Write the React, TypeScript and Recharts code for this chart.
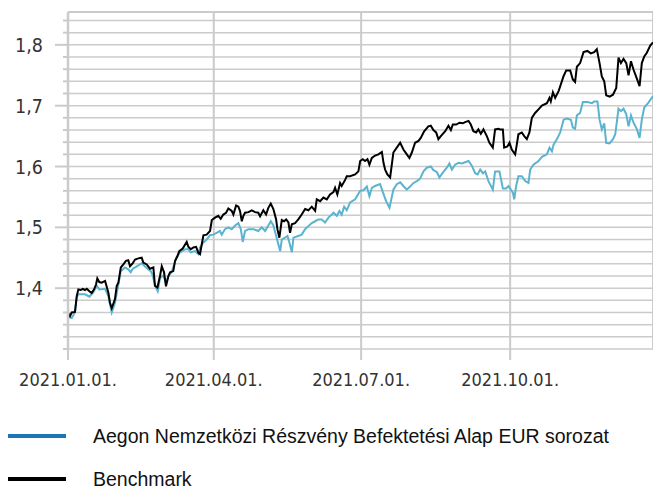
import React from "react";
import {
  LineChart,
  Line,
  XAxis,
  YAxis,
  CartesianGrid,
  ReferenceLine,
} from "recharts";

// days counted from 2021.01.01.
const X_TICK_DAYS = [0, 90, 181, 273];
const X_TICK_LABELS = ["2021.01.01.", "2021.04.01.", "2021.07.01.", "2021.10.01."];
const X_MAX = 361.2;

const Y_MIN = 1.3;
const Y_MAX = 1.854;
const Y_TICKS = [
  1.3, 1.32, 1.34, 1.36, 1.38, 1.4, 1.42, 1.44, 1.46, 1.48, 1.5, 1.52, 1.54, 1.56,
  1.58, 1.6, 1.62, 1.64, 1.66, 1.68, 1.7, 1.72, 1.74, 1.76, 1.78, 1.8, 1.82, 1.84,
];
const Y_LABELED = [1.4, 1.5, 1.6, 1.7, 1.8];

const SERIES_NAMES = ["Aegon Nemzetközi Részvény Befektetési Alap EUR sorozat", "Benchmark"];

// Aegon fund (EUR series)
const fundDays = [
  0, 1.2, 2.3, 4.3, 5.4, 6.4, 10.5, 13.2, 15.6, 17.7,
  19.3, 22.9, 24.9, 27.0, 29.0, 31.1, 32.6, 35.2, 37.2, 38.7,
  40.0, 42.5, 45.5, 48.2, 51.1, 52.3, 53.7, 55.4, 56.8, 58.9,
  60.5, 62.0, 64.1, 67.2, 69.2, 72.3, 74.3, 75.8, 78.4, 80.5,
  81.5, 83.6, 85.6, 87.7, 89.7, 91.8, 93.8, 94.9, 96.9, 99.0,
  101.1, 103.2, 105.2, 106.7, 107.9, 109.3, 111.4, 114.5, 117.5, 119.6,
  121.7, 123.7, 125.2, 126.8, 128.5, 129.9, 131.0, 132.0, 134.0, 135.5,
  136.7, 138.2, 139.2, 141.3, 144.3, 146.4, 148.4, 150.5, 152.6, 154.6,
  156.7, 158.7, 160.8, 162.9, 163.9, 166.0, 167.6, 169.0, 170.5, 172.1,
  174.2, 177.3, 180.4, 182.4, 184.5, 186.1, 187.6, 189.6, 192.7, 194.4,
  196.4, 198.5, 200.9, 203.0, 205.1, 207.1, 209.2, 211.2, 213.3, 215.4,
  217.4, 219.5, 221.5, 224.0, 225.6, 227.7, 229.3, 231.4, 233.9, 235.5,
  237.0, 239.0, 241.1, 243.2, 245.2, 247.3, 249.4, 251.4, 252.9, 254.5,
  256.2, 257.6, 259.6, 262.3, 263.7, 266.4, 268.5, 270.5, 272.0, 273.4,
  274.7, 275.5, 276.7, 278.1, 280.2, 282.3, 284.3, 285.4, 287.4, 290.5,
  292.6, 295.7, 297.3, 298.8, 299.8, 301.9, 303.9, 306.0, 308.0, 310.5,
  311.7, 313.1, 314.2, 316.2, 317.9, 320.7, 323.5, 324.9, 326.9, 328.2,
  329.6, 331.1, 332.3, 334.4, 336.5, 337.9, 339.9, 341.4, 343.0, 344.7,
  346.1, 347.6, 349.2, 351.3, 352.9, 354.3, 355.8, 358.4, 361.2,
];
const fundValues = [
  1.357, 1.352, 1.351, 1.36, 1.385, 1.39, 1.39, 1.386, 1.393, 1.404,
  1.398, 1.399, 1.387, 1.36, 1.376, 1.406, 1.428, 1.434, 1.431, 1.426,
  1.432, 1.436, 1.441, 1.434, 1.428, 1.421, 1.404, 1.395, 1.417, 1.421,
  1.408, 1.42, 1.427, 1.452, 1.459, 1.464, 1.464, 1.459, 1.461, 1.456,
  1.467, 1.475, 1.48, 1.487, 1.488, 1.491, 1.494, 1.488, 1.497, 1.5,
  1.497, 1.503, 1.507, 1.497, 1.476, 1.494, 1.497, 1.497, 1.494, 1.5,
  1.494, 1.503, 1.51, 1.503, 1.486, 1.472, 1.461, 1.48, 1.483, 1.486,
  1.475, 1.459, 1.483, 1.485, 1.488, 1.497, 1.502, 1.507, 1.51, 1.513,
  1.513, 1.508, 1.516, 1.521, 1.524, 1.519, 1.527, 1.521, 1.534, 1.528,
  1.541, 1.546, 1.56, 1.561, 1.567, 1.551, 1.565, 1.568, 1.571, 1.558,
  1.543, 1.532, 1.562, 1.571, 1.574, 1.568, 1.562, 1.567, 1.573, 1.576,
  1.58, 1.592, 1.598, 1.6, 1.594, 1.591, 1.582, 1.59, 1.598, 1.605,
  1.595, 1.603, 1.606, 1.605, 1.607, 1.609, 1.601, 1.589, 1.587, 1.595,
  1.589, 1.592, 1.576, 1.562, 1.592, 1.592, 1.564, 1.564, 1.568, 1.562,
  1.557, 1.546, 1.568, 1.584, 1.584, 1.576, 1.573, 1.595, 1.603, 1.609,
  1.616, 1.62, 1.631, 1.625, 1.636, 1.645, 1.656, 1.677, 1.679, 1.677,
  1.664, 1.662, 1.684, 1.688, 1.706, 1.706, 1.704, 1.707, 1.707, 1.677,
  1.661, 1.671, 1.639, 1.638, 1.645, 1.653, 1.695, 1.691, 1.695, 1.686,
  1.666, 1.684, 1.672, 1.661, 1.647, 1.677, 1.697, 1.705, 1.716,
];

// Benchmark
const benchDays = [
  0, 1.2, 2.3, 4.3, 5.4, 6.4, 7.8, 9.1, 10.5, 11.6,
  13.2, 14.6, 16.1, 17.3, 18.1, 19.3, 20.8, 22.9, 24.9, 25.9,
  27.0, 29.0, 30.1, 31.1, 32.6, 34.2, 35.8, 37.2, 38.3, 40.0,
  41.4, 43.4, 45.5, 46.5, 48.6, 50.6, 52.7, 53.7, 55.2, 56.8,
  57.9, 59.3, 60.5, 62.0, 63.0, 65.0, 66.1, 67.5, 68.7, 70.8,
  73.3, 74.3, 75.8, 77.4, 79.1, 80.5, 81.5, 83.6, 85.6, 87.7,
  88.8, 90.8, 92.8, 94.3, 95.9, 97.6, 99.0, 101.1, 102.1, 103.8,
  105.2, 106.2, 107.3, 108.3, 109.3, 111.4, 113.5, 115.5, 117.5, 118.6,
  120.6, 122.3, 123.7, 125.2, 126.8, 128.5, 129.3, 130.5, 132.0, 133.4,
  134.7, 136.1, 137.1, 138.2, 140.2, 142.2, 144.3, 146.4, 148.4, 150.5,
  152.6, 153.6, 155.7, 157.7, 159.8, 161.8, 163.9, 164.9, 166.3, 168.0,
  169.0, 171.1, 172.1, 174.2, 177.3, 179.3, 180.4, 182.0, 183.4, 184.9,
  186.1, 187.6, 189.6, 191.7, 193.8, 194.8, 195.8, 197.2, 198.9, 200.9,
  203.0, 205.1, 207.1, 209.2, 210.8, 212.3, 214.3, 216.4, 217.8, 219.9,
  222.5, 224.0, 225.6, 227.3, 228.7, 230.2, 232.9, 234.9, 236.4, 237.6,
  239.7, 241.7, 243.8, 245.2, 247.3, 248.7, 250.3, 252.0, 253.4, 254.9,
  256.5, 258.6, 260.2, 262.3, 263.7, 265.8, 266.8, 268.5, 269.3, 271.3,
  272.6, 274.0, 276.1, 277.1, 278.1, 280.2, 281.7, 283.3, 284.9, 286.4,
  288.4, 290.5, 292.6, 295.7, 297.3, 298.1, 299.4, 300.8, 302.9, 304.3,
  305.9, 307.6, 310.1, 311.7, 313.1, 314.2, 316.2, 318.3, 320.7, 322.8,
  324.9, 326.5, 328.2, 329.6, 331.1, 332.3, 334.4, 336.5, 338.5, 339.9,
  341.4, 343.0, 344.7, 346.1, 347.6, 349.2, 351.3, 352.9, 354.3, 355.8,
  357.4, 359.5, 361.2,
];
const benchValues = [
  1.359, 1.354, 1.36, 1.361, 1.387, 1.398, 1.397, 1.399, 1.397, 1.399,
  1.395, 1.392, 1.398, 1.406, 1.416, 1.41, 1.409, 1.412, 1.393, 1.376,
  1.367, 1.382, 1.404, 1.409, 1.434, 1.439, 1.445, 1.446, 1.436, 1.441,
  1.447, 1.449, 1.45, 1.442, 1.439, 1.432, 1.434, 1.404, 1.401, 1.42,
  1.436, 1.426, 1.403, 1.42, 1.426, 1.428, 1.445, 1.452, 1.461, 1.465,
  1.476, 1.468, 1.464, 1.467, 1.468, 1.458, 1.456, 1.487, 1.488, 1.494,
  1.512, 1.516, 1.519, 1.514, 1.521, 1.524, 1.531, 1.527, 1.521, 1.536,
  1.534, 1.527, 1.51, 1.519, 1.524, 1.525, 1.528, 1.525, 1.524, 1.518,
  1.528, 1.521, 1.532, 1.539, 1.53, 1.513, 1.497, 1.483, 1.512, 1.51,
  1.513, 1.508, 1.491, 1.505, 1.507, 1.513, 1.521, 1.53, 1.528, 1.534,
  1.527, 1.546, 1.543, 1.549, 1.546, 1.554, 1.558, 1.565, 1.554, 1.573,
  1.568, 1.578, 1.584, 1.584, 1.587, 1.592, 1.609, 1.612, 1.609, 1.612,
  1.603, 1.614, 1.618, 1.62, 1.624, 1.606, 1.595, 1.587, 1.582, 1.623,
  1.631, 1.639, 1.628, 1.62, 1.614, 1.623, 1.639, 1.642, 1.647, 1.658,
  1.666, 1.667, 1.66, 1.656, 1.645, 1.65, 1.658, 1.667, 1.66, 1.669,
  1.669, 1.672, 1.671, 1.673, 1.675, 1.669, 1.658, 1.656, 1.661, 1.654,
  1.661, 1.65, 1.639, 1.631, 1.661, 1.662, 1.661, 1.661, 1.631, 1.633,
  1.639, 1.628, 1.62, 1.636, 1.653, 1.656, 1.65, 1.645, 1.656, 1.68,
  1.688, 1.694, 1.7, 1.704, 1.713, 1.707, 1.722, 1.713, 1.724, 1.735,
  1.748, 1.758, 1.758, 1.743, 1.739, 1.764, 1.77, 1.788, 1.79, 1.786,
  1.788, 1.793, 1.77, 1.748, 1.74, 1.717, 1.715, 1.718, 1.729, 1.779,
  1.77, 1.777, 1.77, 1.75, 1.773, 1.759, 1.744, 1.732, 1.77, 1.781,
  1.787, 1.799, 1.804,
];

const fundData = fundDays.map((day, i) => ({ day, value: fundValues[i] }));
const benchData = benchDays.map((day, i) => ({ day, value: benchValues[i] }));

const GRID = "#cbcbcb";
const TEXT = "#333333";
const AXIS_FONT = "'DejaVu Sans Condensed', 'DejaVu Sans', sans-serif";
const LEGEND_FONT = "'Liberation Sans', Arial, sans-serif";

// y tick: long tick + label at every 0.1, short tick otherwise
const YTick = (props: any) => {
  const { x, y, payload } = props;
  const labeled = Y_LABELED.some((v) => Math.abs(v - payload.value) < 1e-6);
  return (
    <g>
      <line x1={x - (labeled ? 13 : 5)} x2={x} y1={y} y2={y} stroke={GRID} strokeWidth={2} />
      {labeled && (
        <text
          x={x - 25}
          y={y}
          dy="0.36em"
          textAnchor="end"
          fill={TEXT}
          fontSize={19.5}
          fontFamily={AXIS_FONT}
        >
          {payload.value.toFixed(1).replace(".", ",")}
        </text>
      )}
    </g>
  );
};

const LegendRow = ({ color, label, top }: any) => (
  <div style={{ position: "absolute", left: 0, top, height: 20, width: 653 }}>
    <div
      style={{
        position: "absolute",
        left: 8,
        top: 8,
        width: 58,
        height: 4,
        background: color,
      }}
    />
    <div
      style={{
        position: "absolute",
        left: 93,
        top: 0,
        lineHeight: "20px",
        fontSize: 19.5,
        fontFamily: LEGEND_FONT,
        color: "#111",
        whiteSpace: "nowrap",
      }}
    >
      {label}
    </div>
  </div>
);

export default function App() {
  return (
    <div style={{ position: "absolute", left: 0, top: 0, width: 653, height: 489, background: "#fff", overflow: "hidden" }}>
      <LineChart width={653} height={400} margin={{ top: 12, right: 0, left: 0, bottom: 0 }}>
        <CartesianGrid horizontal={true} vertical={false} stroke={GRID} strokeWidth={1.5} />
        <CartesianGrid horizontal={false} vertical={true} stroke={GRID} strokeWidth={2} />
        <XAxis
          dataKey="day"
          type="number"
          domain={[0, X_MAX]}
          ticks={X_TICK_DAYS}
          tickFormatter={(v: number) => X_TICK_LABELS[X_TICK_DAYS.indexOf(v)] ?? ""}
          height={51}
          axisLine={false}
          tickSize={11}
          tickLine={{ stroke: GRID, strokeWidth: 2 }}
          tickMargin={13}
          tick={{ fill: TEXT, fontSize: 18, fontFamily: AXIS_FONT }}
          allowDuplicatedCategory={false}
        />
        <YAxis
          type="number"
          domain={[Y_MIN, Y_MAX]}
          ticks={Y_TICKS}
          width={68}
          interval={0}
          axisLine={{ stroke: GRID, strokeWidth: 2.5 }}
          tickLine={false}
          tickSize={0}
          tickMargin={0}
          tick={<YTick />}
        />
        <ReferenceLine y={Y_MAX} stroke={GRID} strokeWidth={2} />
        <Line
          data={fundData}
          dataKey="value"
          name={SERIES_NAMES[0]}
          type="linear"
          stroke="#5ab4cf"
          strokeWidth={2}
          dot={false}
          isAnimationActive={false}
        />
        <Line
          data={benchData}
          dataKey="value"
          name={SERIES_NAMES[1]}
          type="linear"
          stroke="#000000"
          strokeWidth={2}
          dot={false}
          isAnimationActive={false}
        />
      </LineChart>
      <LegendRow color="#1a75bb" label={SERIES_NAMES[0]} top={426} />
      <LegendRow color="#000000" label={SERIES_NAMES[1]} top={469} />
    </div>
  );
}
